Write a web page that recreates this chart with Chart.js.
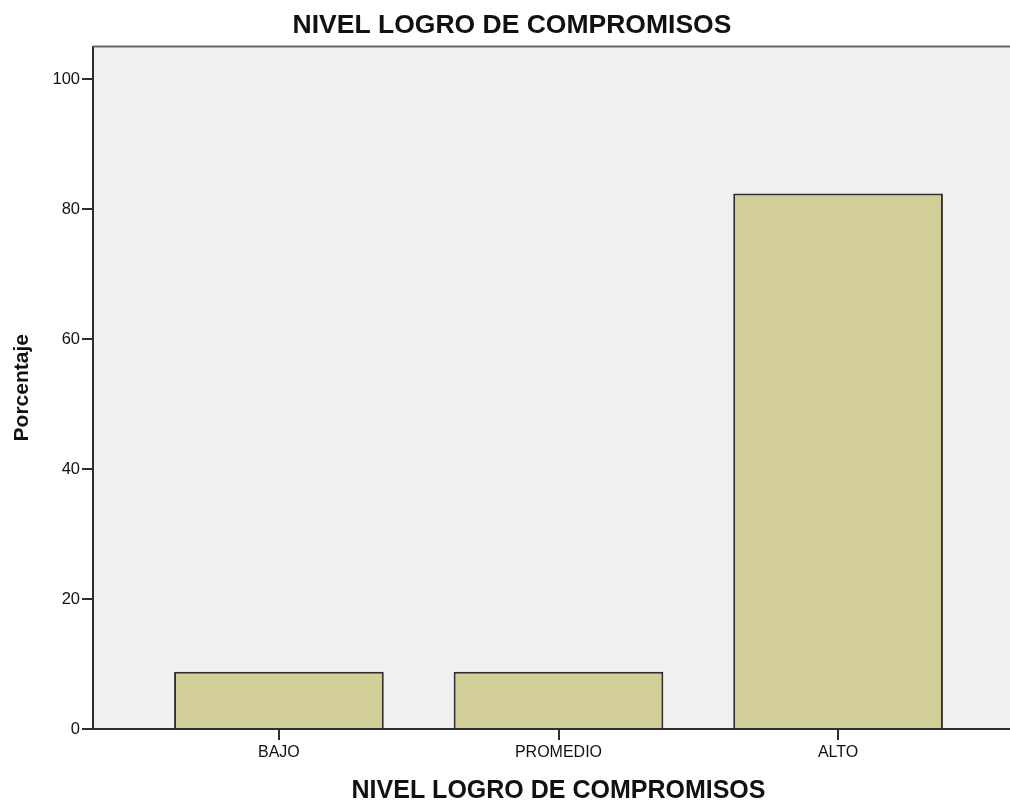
<!DOCTYPE html>
<html lang="es">
<head>
  <meta charset="UTF-8" />
  <title>NIVEL LOGRO DE COMPROMISOS</title>
  <script src="https://cdn.jsdelivr.net/npm/chart.js"></script>
  <style>
    html, body { margin: 0; padding: 0; background: #fff; overflow: hidden; }
    canvas { display: block; }
  </style>
</head>
<body>
<canvas id="nivelChart" width="1024" height="806"></canvas>

<script>
  // datos
  const categorias = ['BAJO', 'PROMEDIO', 'ALTO'];
  const porcentajes = [8.8, 8.8, 82.4];
  const yTicks = [0, 20, 40, 60, 80, 100];

  const puntos = porcentajes.map((v, i) => ({ x: i, y: v }));

  // fondo gris del area de trazado y linea superior
  const fondoPlot = {
    id: 'fondoPlot',
    beforeDraw(chart) {
      const { ctx, chartArea: a } = chart;
      ctx.save();
      ctx.fillStyle = '#f0f0f0';
      ctx.fillRect(a.left, a.top, a.right - a.left, a.bottom - a.top);
      ctx.restore();
    },
    afterDraw(chart) {
      const { ctx, chartArea: a } = chart;
      ctx.save();
      ctx.strokeStyle = '#666';
      ctx.lineWidth = 2;
      ctx.beginPath();
      ctx.moveTo(a.left, a.top);
      ctx.lineTo(a.right, a.top);
      ctx.stroke();
      ctx.restore();
    }
  };

  const ctx = document.getElementById('nivelChart').getContext('2d');
  new Chart(ctx, {
    type: 'bar',
    data: {
      datasets: [{
        label: 'Porcentaje',
        data: puntos,
        backgroundColor: '#d3cf98',
        borderColor: '#2e2e2e',
        borderWidth: 2,
        categoryPercentage: 1,
        barPercentage: 0.75
      }]
    },
    options: {
      responsive: false,
      animation: false,
      layout: { padding: 0 },
      plugins: {
        legend: { display: false },
        tooltip: { enabled: false },
        title: {
          display: true,
          text: 'NIVEL LOGRO DE COMPROMISOS',
          color: '#111',
          font: { family: 'Liberation Sans', size: 26.5, weight: 'bold', lineHeight: 1.2 },
          padding: { top: 10, bottom: 4.7 }
        }
      },
      scales: {
        x: {
          type: 'linear',
          offset: false,
          min: -0.665,
          max: 2.665,
          afterBuildTicks: s => { s.ticks = categorias.map((c, i) => ({ value: i })); },
          afterFit: s => { s.height = 77; },
          ticks: {
            callback: v => categorias[v],
            color: '#111',
            padding: 3,
            font: { family: 'Liberation Sans', size: 16 }
          },
          grid: { offset: false, drawOnChartArea: false, drawTicks: true, tickLength: 11, color: '#2e2e2e', lineWidth: 2 },
          border: { display: true, color: '#2e2e2e', width: 2 },
          title: {
            display: true,
            text: 'NIVEL LOGRO DE COMPROMISOS',
            color: '#111',
            font: { family: 'Liberation Sans', size: 25, weight: 'bold', lineHeight: 1.2 },
            padding: { top: 14.8, bottom: 0 }
          }
        },
        y: {
          min: 0,
          max: 105,
          afterBuildTicks: s => { s.ticks = yTicks.map(v => ({ value: v })); },
          afterFit: s => { s.width = 93; },
          ticks: {
            color: '#111',
            padding: 2,
            font: { family: 'Liberation Sans', size: 16.5 }
          },
          grid: { drawOnChartArea: false, drawTicks: true, tickLength: 11, color: '#2e2e2e', lineWidth: 2 },
          border: { display: true, color: '#2e2e2e', width: 2 },
          title: {
            display: true,
            text: 'Porcentaje',
            color: '#111',
            font: { family: 'Liberation Sans', size: 21, weight: 'bold', lineHeight: 1.2 },
            padding: { top: 9.4, bottom: 18 }
          }
        }
      }
    },
    plugins: [fondoPlot]
  });
</script>
</body>
</html>
